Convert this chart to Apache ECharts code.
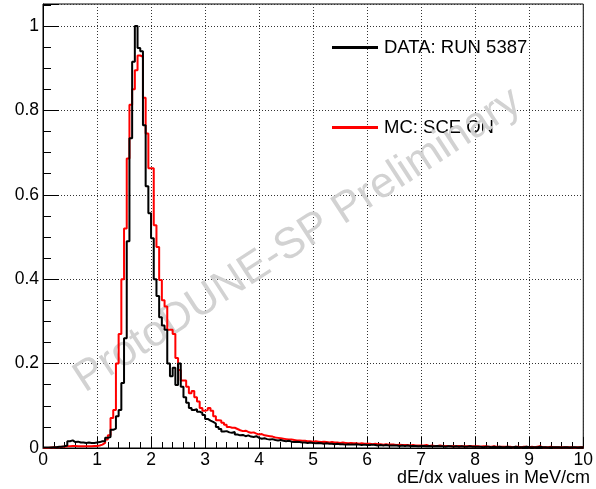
<!DOCTYPE html>
<html>
<head>
<meta charset="utf-8">
<script src="https://cdn.jsdelivr.net/npm/echarts/dist/echarts.min.js"></script>
<style>html,body{margin:0;padding:0;background:#fff}#c{width:596px;height:489px}</style>
</head>
<body>
<div id="c"></div>
<script>
// Histogram binning (0 to 10, 0.05 per bin)
const binWidth = 0.05;
const xMin = 0, xMax = 10;
const xTicks = ['0','1','2','3','4','5','6','7','8','9','10'];
const seriesNames = ['DATA: RUN 5387', 'MC: SCE ON'];

// DATA: RUN 5387 (normalized bin contents)
const dataRun5387 = [
0.001,0.001,0.001,0.002,0.002,0.003,0.003,0.004,0.006,0.016,
0.018,0.014,0.015,0.013,0.013,0.012,0.013,0.012,0.012,0.013,
0.014,0.016,0.016,0.024,0.026,0.043,0.046,0.075,0.090,0.154,
0.26,0.49,0.734,0.915,1.0,0.948,0.94,0.765,0.62,0.556,
0.497,0.40,0.36,0.31,0.29,0.28,0.20,0.17,0.19,0.149,
0.20,0.145,0.12,0.107,0.095,0.09,0.092,0.086,0.083,0.078,
0.069,0.065,0.062,0.058,0.050,0.045,0.039,0.040,0.037,0.036,
0.038,0.032,0.030,0.031,0.028,0.030,0.027,0.026,0.028,0.024,
0.022,0.023,0.021,0.020,0.021,0.019,0.018,0.019,0.017,0.016,
0.017,0.015,0.014,0.015,0.014,0.013,0.013,0.012,0.013,0.012,
0.011,0.012,0.011,0.010,0.011,0.010,0.010,0.009,0.010,0.009,
0.009,0.008,0.009,0.008,0.008,0.009,0.008,0.007,0.008,0.007,
0.007,0.008,0.007,0.006,0.007,0.006,0.007,0.006,0.006,0.006,
0.006,0.005,0.006,0.005,0.006,0.005,0.005,0.005,0.004,0.005,
0.005,0.004,0.005,0.004,0.004,0.005,0.004,0.004,0.003,0.004,
0.004,0.003,0.004,0.003,0.004,0.003,0.003,0.004,0.003,0.003,
0.003,0.003,0.002,0.003,0.003,0.002,0.003,0.002,0.003,0.002,
0.002,0.003,0.002,0.002,0.003,0.002,0.002,0.002,0.003,0.002,
0.002,0.002,0.002,0.003,0.002,0.002,0.001,0.002,0.002,0.002,
0.002,0.001,0.002,0.002,0.001,0.002,0.002,0.001,0.002,0.002
];

// MC: SCE ON (normalized bin contents)
const mcSceOn = [
0.000,0.000,0.001,0.001,0.002,0.002,0.003,0.003,0.004,0.004,
0.005,0.005,0.004,0.004,0.004,0.004,0.004,0.004,0.005,0.005,
0.006,0.008,0.012,0.020,0.030,0.071,0.090,0.20,0.27,0.40,
0.52,0.686,0.813,0.85,0.895,0.93,0.927,0.83,0.745,0.663,
0.663,0.528,0.476,0.398,0.35,0.335,0.28,0.28,0.27,0.213,
0.185,0.16,0.16,0.145,0.13,0.135,0.12,0.11,0.095,0.088,
0.090,0.095,0.088,0.075,0.066,0.065,0.060,0.055,0.050,0.048,
0.048,0.045,0.042,0.040,0.041,0.038,0.036,0.037,0.034,0.032,
0.033,0.030,0.029,0.028,0.027,0.025,0.024,0.023,0.022,0.021,
0.020,0.020,0.019,0.018,0.018,0.017,0.017,0.016,0.016,0.015,
0.016,0.015,0.014,0.015,0.014,0.013,0.014,0.013,0.013,0.012,
0.013,0.012,0.011,0.012,0.011,0.011,0.010,0.011,0.010,0.010,
0.010,0.009,0.010,0.009,0.009,0.008,0.009,0.008,0.008,0.008,
0.007,0.008,0.007,0.007,0.007,0.006,0.007,0.006,0.006,0.006,
0.006,0.007,0.005,0.006,0.005,0.005,0.006,0.005,0.005,0.005,
0.004,0.005,0.004,0.005,0.004,0.004,0.004,0.005,0.004,0.004,
0.004,0.003,0.004,0.004,0.003,0.003,0.004,0.003,0.003,0.003,
0.003,0.003,0.003,0.002,0.003,0.003,0.002,0.003,0.003,0.002,
0.003,0.002,0.003,0.004,0.002,0.002,0.002,0.003,0.002,0.002,
0.002,0.002,0.002,0.002,0.002,0.002,0.001,0.002,0.002,0.002
];

function toSteps(vals) {
  const pts = vals.map((v, i) => [+(xMin + i * binWidth).toFixed(4), v]);
  pts.push([xMax, vals[vals.length - 1]]);
  return pts;
}

const FONT = 'Liberation Sans';
const chart = echarts.init(document.getElementById('c'), null, {renderer: 'canvas'});
chart.setOption({
  animation: false,
  backgroundColor: '#fff',
  grid: {left: 43, right: 6.5, top: 4, bottom: 41, show: true, borderColor: '#000', borderWidth: 1, backgroundColor: 'transparent'},
  legend: {
    data: seriesNames,
    orient: 'vertical',
    left: 327, top: 33,
    itemWidth: 46, itemHeight: 3, itemGap: 61,
    icon: 'rect',
    z: 3,
    textStyle: {fontFamily: FONT, fontSize: 18.5, color: '#000', padding: [0, 0, 0, 1]}
  },
  xAxis: {
    type: 'value', min: xMin, max: xMax, interval: 1,
    axisLine: {show: true, lineStyle: {color: '#000', width: 1}},
    axisTick: {show: true, inside: true, length: 11, lineStyle: {color: '#000'}},
    minorTick: {show: true, splitNumber: 5, length: 6, lineStyle: {color: '#000'}},
    splitLine: {show: true, lineStyle: {color: '#333', type: [1, 2], width: 1}},
    axisLabel: {fontFamily: FONT, fontSize: 17.5, color: '#000', margin: 3,
      formatter: v => xTicks[Math.round(v)] || ''}
  },
  yAxis: {
    type: 'value', min: 0, max: 1.052, interval: 0.2,
    axisLine: {show: true, lineStyle: {color: '#000', width: 1}},
    axisTick: {show: true, inside: true, length: 16, lineStyle: {color: '#000'}},
    minorTick: {show: true, splitNumber: 4, length: 8, lineStyle: {color: '#000'}},
    splitLine: {show: true, lineStyle: {color: '#333', type: [1, 2], width: 1}},
    axisLabel: {fontFamily: FONT, fontSize: 17.5, color: '#000', margin: 4, showMaxLabel: false,
      formatter: v => (v === 0 ? '0' : String(+v.toFixed(1)))}
  },
  graphic: [
    {type: 'text', x: 90, y: 401, rotation: 33 * Math.PI / 180, z: 4,
     style: {text: 'ProtoDUNE-SP Preliminary', fontSize: 43, fontFamily: FONT, fill: '#d2d2d2', align: 'left', verticalAlign: 'bottom'}},
    {type: 'text', x: 590, y: 478, z: 10,
     style: {text: 'dE/dx values in MeV/cm', fontSize: 18, fontFamily: FONT, fill: '#000', align: 'right', verticalAlign: 'middle'}}
  ],
  series: [
    {name: seriesNames[1], type: 'line', step: 'end', showSymbol: false, symbol: 'none', z: 5,
     color: '#ff0000', lineStyle: {color: '#ff0000', width: 2}, data: toSteps(mcSceOn)},
    {name: seriesNames[0], type: 'line', step: 'end', showSymbol: false, symbol: 'none', z: 6,
     color: '#000000', lineStyle: {color: '#000000', width: 2}, data: toSteps(dataRun5387)}
  ]
});
</script>
</body>
</html>
